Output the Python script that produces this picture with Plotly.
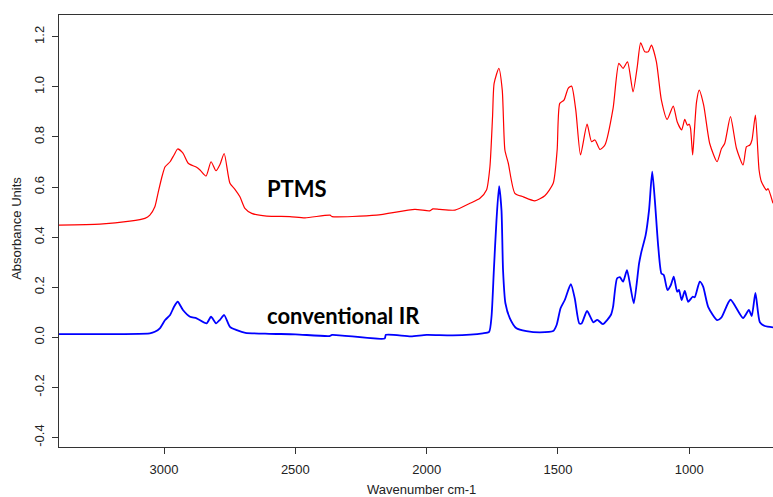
import plotly.graph_objects as go

# PTMS spectrum (red): wavenumber (cm-1) and absorbance
ptms_wn = [3400, 3244, 3130, 3073, 3054, 3035, 3023, 3008, 2996, 2977, 2962, 2948,
           2928, 2908, 2876, 2863, 2840, 2821, 2802, 2787, 2771, 2749, 2730, 2711,
           2692, 2666, 2609, 2521, 2463, 2368, 2360, 2191, 2045, 1988, 1976, 1950,
           1892, 1835, 1797, 1772, 1759, 1749, 1743, 1725, 1712, 1702, 1689, 1664,
           1632, 1588, 1550, 1518, 1503, 1493, 1477, 1461, 1448, 1432, 1414, 1389,
           1372, 1359, 1340, 1321, 1290, 1268, 1252, 1235, 1214, 1198, 1185, 1169,
           1156, 1144, 1125, 1106, 1084, 1061, 1046, 1029, 1017, 1007, 1000, 995,
           987, 981, 972, 962, 945, 922, 894, 877, 865, 843, 820, 795, 782, 769,
           761, 748, 734, 725, 706, 700, 681]
ptms_abs = [0.448, 0.452, 0.464, 0.475, 0.488, 0.521, 0.575, 0.641, 0.681, 0.701, 0.728, 0.752,
            0.735, 0.695, 0.679, 0.668, 0.644, 0.701, 0.665, 0.690, 0.734, 0.615, 0.591, 0.561,
            0.515, 0.495, 0.484, 0.482, 0.477, 0.488, 0.482, 0.488, 0.511, 0.505, 0.513, 0.511,
            0.508, 0.535, 0.555, 0.588, 0.681, 0.881, 1.014, 1.074, 0.987, 0.748, 0.695, 0.575,
            0.561, 0.545, 0.565, 0.615, 0.748, 0.934, 0.947, 0.994, 1.003, 0.907, 0.728, 0.851,
            0.781, 0.788, 0.750, 0.768, 0.914, 1.094, 1.074, 1.100, 0.980, 1.080, 1.176, 1.140,
            1.140, 1.167, 1.100, 0.947, 0.870, 0.923, 0.861, 0.828, 0.870, 0.847, 0.851, 0.834,
            0.728, 0.814, 0.941, 0.987, 0.927, 0.774, 0.701, 0.754, 0.774, 0.881, 0.754, 0.688, 0.761, 0.768,
            0.788, 0.887, 0.668, 0.621, 0.588, 0.594, 0.535]

# Conventional IR spectrum (blue)
ir_wn = [3400, 3054, 3035, 3016, 2996, 2977, 2962, 2948, 2928, 2901, 2876, 2838,
         2821, 2802, 2787, 2771, 2749, 2723, 2690, 2600, 2500, 2370, 2360, 2160,
         2155, 2060, 2000, 1900, 1786, 1762, 1753, 1744, 1734, 1724, 1715, 1709,
         1700, 1683, 1658, 1620, 1569, 1518, 1505, 1490, 1474, 1451, 1436, 1419,
         1410, 1389, 1365, 1350, 1329, 1298, 1290, 1275, 1264, 1252, 1237, 1224,
         1211, 1191, 1182, 1166, 1153, 1141, 1131, 1118, 1106, 1097, 1083, 1070,
         1059, 1046, 1039, 1029, 1017, 1004, 987, 979, 960, 947, 928, 894, 877,
         843, 795, 773, 762, 748, 731, 712, 681]
ir_abs = [0.013, 0.016, 0.022, 0.036, 0.069, 0.089, 0.122, 0.142, 0.109, 0.082, 0.076, 0.056,
          0.082, 0.056, 0.070, 0.089, 0.042, 0.029, 0.018, 0.014, 0.012, 0.005, 0.010, -0.005,
          0.010, 0.004, 0.010, 0.008, 0.016, 0.022, 0.082, 0.268, 0.468, 0.604, 0.508, 0.268,
          0.136, 0.076, 0.036, 0.025, 0.020, 0.025, 0.049, 0.116, 0.149, 0.212, 0.156, 0.056,
          0.055, 0.105, 0.060, 0.070, 0.053, 0.090, 0.122, 0.235, 0.240, 0.222, 0.268, 0.202,
          0.136, 0.295, 0.342, 0.408, 0.508, 0.661, 0.548, 0.362, 0.255, 0.249, 0.189, 0.209,
          0.242, 0.182, 0.189, 0.149, 0.185, 0.142, 0.162, 0.160, 0.222, 0.202, 0.122, 0.069, 0.080,
          0.150, 0.077, 0.109, 0.085, 0.177, 0.060, 0.045, 0.040]

x_ticks = [3000, 2500, 2000, 1500, 1000]
y_ticks = [-0.4, -0.2, 0.0, 0.2, 0.4, 0.6, 0.8, 1.0, 1.2]
y_tick_text = ["-0.4", "-0.2", "0.0", "0.2", "0.4", "0.6", "0.8", "1.0", "1.2"]

fig = go.Figure()
fig.add_trace(go.Scatter(x=ptms_wn, y=ptms_abs, mode="lines",
                         line=dict(color="#ff0000", width=1.2, shape="spline", smoothing=0.6),
                         showlegend=False))
fig.add_trace(go.Scatter(x=ir_wn, y=ir_abs, mode="lines",
                         line=dict(color="#0000ff", width=1.8, shape="spline", smoothing=0.6),
                         showlegend=False))

tick_font = dict(family="Liberation Sans, Arial, sans-serif", size=13, color="#222222")
label_font = dict(family="Lato, sans-serif", size=22, color="#000000")
fig.update_layout(
    width=773, height=497,
    margin=dict(l=59, r=0, t=15, b=50),
    paper_bgcolor="white", plot_bgcolor="white",
    xaxis=dict(range=[3400, 681], tickvals=x_ticks, ticks="outside", ticklen=6,
               tickcolor="#333333", showline=True, linecolor="#333333", linewidth=1,
               mirror=True, showgrid=False, zeroline=False, tickfont=tick_font,
               ticklabelstandoff=4),
    yaxis=dict(range=[-0.438, 1.287], tickvals=y_ticks, ticktext=y_tick_text,
               ticks="outside", ticklen=6, tickcolor="#333333", tickangle=-90,
               showline=True, linecolor="#333333", linewidth=1, showgrid=False,
               zeroline=False, tickfont=tick_font, ticklabelstandoff=3),
    annotations=[
        dict(text="Wavenumber cm-1", xref="paper", yref="paper", x=0.508, y=-0.0995,
             showarrow=False, font=tick_font, xanchor="center", yanchor="middle"),
        dict(text="Absorbance Units", xref="paper", yref="paper", x=-0.0588, y=0.505,
             showarrow=False, font=tick_font, textangle=-90, xanchor="center", yanchor="middle"),
        dict(text="<b>PTMS</b>", x=2616, y=0.596, showarrow=False, xanchor="left",
             yanchor="middle", font=label_font),
        dict(text="<b>conventional IR</b>", x=2616, y=0.087, showarrow=False, xanchor="left",
             yanchor="middle", font=label_font),
    ],
)
fig.write_html("out.html")
